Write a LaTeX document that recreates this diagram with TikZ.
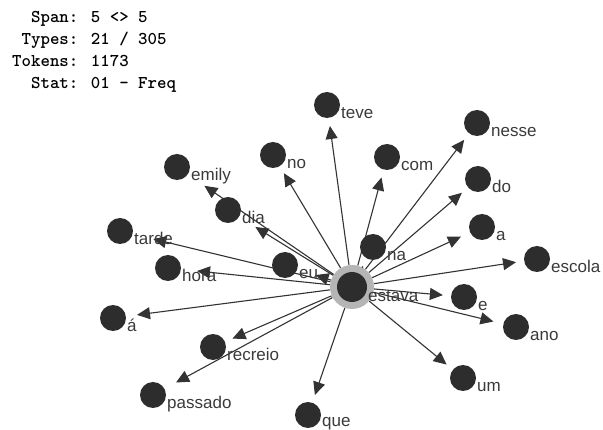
\documentclass[tikz,border=0pt]{standalone}
\usepackage{fontspec}
\usepackage{tikz}
\usetikzlibrary{arrows.meta,backgrounds}
\newfontfamily\wordfont{Liberation Sans}
\definecolor{dotcol}{HTML}{2D2D2D}
\definecolor{ringgrey}{HTML}{B5B5B5}
\definecolor{txtgrey}{HTML}{3A3A3A}
\definecolor{linegrey}{HTML}{333333}
\tikzset{
  dot/.style={circle,fill=dotcol,minimum size=26pt,inner sep=0pt},
  hub/.style={circle,fill=ringgrey,minimum size=44pt,inner sep=0pt,
    path picture={\fill[dotcol] (path picture bounding box.center) circle (15pt);}},
  lbl/.style={anchor=base west,inner sep=0pt,text=txtgrey,font=\wordfont\fontsize{17}{20}\selectfont},
  hdr/.style={anchor=base west,inner sep=0pt,text=black,font=\ttfamily\bfseries\fontsize{18}{21}\selectfont},
  arr/.style={draw=linegrey,line width=1.1pt,-{Triangle[length=13pt,width=12pt]},shorten >=8pt}
}
\begin{document}
\begin{tikzpicture}[x=1pt,y=-1pt]
            \useasboundingbox (0,0) rectangle (603,430);
            % Header
            \node[hdr] (span) at (12,23) {\phantom{To}Span: 5 <> 5};
            \node[hdr] (types) at (12,45) {\phantom{T}Types: 21 / 305};
            \node[hdr] (tokens) at (12,67) {Tokens: 1173};
            \node[hdr] (stat) at (12,89) {\phantom{To}Stat: 01 - Freq};
            % Center
            \node[hub] (estava) at (352,287) {};
            \node[lbl] (estava-l) at ([shift={(16,15)}]estava.center) {estava};
            % Words
            \node[dot] (teve) at (327,105) {};
            \node[lbl] (teve-l) at ([shift={(14,14)}]teve.center) {teve};
            \node[dot] (no) at (273,155) {};
            \node[lbl] (no-l) at ([shift={(14,14)}]no.center) {no};
            \node[dot] (com) at (387,157) {};
            \node[lbl] (com-l) at ([shift={(14,14)}]com.center) {com};
            \node[dot] (nesse) at (477,123) {};
            \node[lbl] (nesse-l) at ([shift={(14,14)}]nesse.center) {nesse};
            \node[dot] (do) at (478,179) {};
            \node[lbl] (do-l) at ([shift={(14,14)}]do.center) {do};
            \node[dot] (a) at (482,227) {};
            \node[lbl] (a-l) at ([shift={(14,14)}]a.center) {a};
            \node[dot] (escola) at (537,259) {};
            \node[lbl] (escola-l) at ([shift={(14,14)}]escola.center) {escola};
            \node[dot] (na) at (373,247) {};
            \node[lbl] (na-l) at ([shift={(14,14)}]na.center) {na};
            \node[dot] (emily) at (177,167) {};
            \node[lbl] (emily-l) at ([shift={(14,14)}]emily.center) {emily};
            \node[dot] (dia) at (228,210) {};
            \node[lbl] (dia-l) at ([shift={(14,14)}]dia.center) {dia};
            \node[dot] (tarde) at (120,231) {};
            \node[lbl] (tarde-l) at ([shift={(14,14)}]tarde.center) {tarde};
            \node[dot] (hora) at (168,268) {};
            \node[lbl] (hora-l) at ([shift={(14,14)}]hora.center) {hora};
            \node[dot] (eu) at (285,265) {};
            \node[lbl] (eu-l) at ([shift={(14,14)}]eu.center) {eu};
            \node[dot] (e) at (464,297) {};
            \node[lbl] (e-l) at ([shift={(14,14)}]e.center) {e};
            \node[dot] (ano) at (516,327) {};
            \node[lbl] (ano-l) at ([shift={(14,14)}]ano.center) {ano};
            \node[dot] (um) at (463,378) {};
            \node[lbl] (um-l) at ([shift={(14,14)}]um.center) {um};
            \node[dot] (aa) at (113,318) {};
            \node[lbl] (aa-l) at ([shift={(14,14)}]aa.center) {á};
            \node[dot] (recreio) at (213,347) {};
            \node[lbl] (recreio-l) at ([shift={(14,14)}]recreio.center) {recreio};
            \node[dot] (passado) at (153,395) {};
            \node[lbl] (passado-l) at ([shift={(14,14)}]passado.center) {passado};
            \node[dot] (que) at (308,415) {};
            \node[lbl] (que-l) at ([shift={(14,12)}]que.center) {que};
            % Edges
            \begin{scope}[on background layer]
            \draw[arr] (estava) -- (teve);
            \draw[arr] (estava) -- (no);
            \draw[arr] (estava) -- (com);
            \draw[arr] (estava) -- (nesse);
            \draw[arr] (estava) -- (do);
            \draw[arr,shorten >=10pt] (estava) -- (a);
            \draw[arr] (estava) -- (escola);
            \draw[arr] (estava) -- (na);
            \draw[arr,shorten >=20pt] (estava) -- (emily);
            \draw[arr,shorten >=19pt] (estava) -- (dia);
            \draw[arr,shorten >=21pt] (estava) -- (tarde);
            \draw[arr,shorten >=16pt] (estava) -- (hora);
            \draw[arr,shorten >=19pt] (estava) -- (eu);
            \draw[arr] (estava) -- (e);
            \draw[arr,shorten >=10pt] (estava) -- (ano);
            \draw[arr] (estava) -- (um);
            \draw[arr,shorten >=11pt] (estava) -- (aa);
            \draw[arr] (estava) -- (recreio);
            \draw[arr,shorten >=13pt] (estava) -- (passado);
            \draw[arr] (estava) -- (que);
            \end{scope}
        \end{tikzpicture}
\end{document}
